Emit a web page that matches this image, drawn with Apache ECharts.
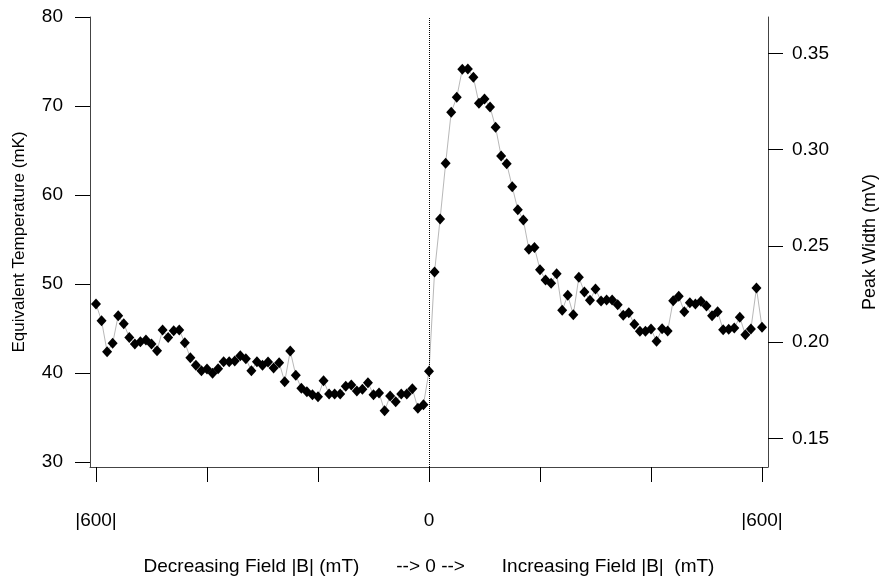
<!DOCTYPE html>
<html>
<head>
<meta charset="utf-8">
<script src="https://cdn.jsdelivr.net/npm/echarts@6/dist/echarts.min.js"></script>
<style>html,body{margin:0;padding:0;background:#fff;}#c{width:885px;height:585px;}</style>
</head>
<body>
<div id="c"></div>
<script>
// Decreasing field side (plotted as negative), |B| in mT
const fieldLeft = [-600,-590,-580,-570,-560,-550,-540,-530,-520,-510,-500,-490,-480,-470,-460,-450,-440,-430,-420,-410,-400,-390,-380,-370,-360,-350,-340,-330,-320,-310,-300,-290,-280,-270,-260,-250,-240,-230,-220,-210,-200,-190,-180,-170,-160,-150,-140,-130,-120,-110,-100,-90,-80,-70,-60,-50,-40,-30,-20,-10,0];
const tempLeft = [47.75,45.88,42.4,43.33,46.44,45.54,44.0,43.26,43.52,43.71,43.26,42.5,44.83,44.0,44.75,44.83,43.4,41.72,40.86,40.26,40.45,39.97,40.48,41.27,41.27,41.35,41.94,41.61,40.26,41.27,40.86,41.24,40.56,41.16,39.02,42.47,39.74,38.28,37.9,37.56,37.34,39.13,37.64,37.64,37.64,38.5,38.65,37.98,38.17,38.91,37.56,37.75,35.76,37.42,36.78,37.64,37.64,38.24,36.03,36.44,40.19];
// Increasing field side
const fieldRight = [10,20,30,40,50,60,70,80,90,100,110,120,130,140,150,160,170,180,190,200,210,220,230,240,250,260,270,280,290,300,310,320,330,340,350,360,370,380,390,400,410,420,430,440,450,460,470,480,490,500,510,520,530,540,550,560,570,580,590,600];
const tempRight = [51.35,57.3,63.56,69.29,70.98,74.12,74.16,73.22,70.3,70.79,69.89,67.6,64.38,63.52,60.93,58.35,57.19,53.9,54.1,51.6,50.45,50.08,51.16,47.04,48.73,46.55,50.75,49.1,48.17,49.44,48.09,48.2,48.2,47.67,46.48,46.78,45.47,44.69,44.69,44.94,43.56,44.98,44.72,48.12,48.62,46.89,47.9,47.75,48.05,47.53,46.44,46.89,44.87,44.91,45.06,46.26,44.3,44.94,49.55,45.13];

const xTicks = [-600,-400,-200,0,200,400,600];
const xLabels = [-600,0,600];
const leftTicks = [30,40,50,60,70,80];
const rightTicks = [0.15,0.20,0.25,0.30,0.35];

const data = [];
fieldLeft.forEach((f,i)=>data.push([f,tempLeft[i]]));
fieldRight.forEach((f,i)=>data.push([f,tempRight[i]]));

const FONT = '"Liberation Sans", Arial, sans-serif';
const FS = 19;   // tick labels
const TS = 19;   // axis titles
const chart = echarts.init(document.getElementById('c'), null, {renderer:'canvas'});
chart.setOption({
  animation:false,
  backgroundColor:'#fff',
  textStyle:{fontFamily:FONT},
  grid:{left:90,right:117,top:17,bottom:118,containLabel:false,outerBoundsMode:'none'},
  xAxis:{
    type:'value', min:-610.8, max:610.8,
    name:'Decreasing Field |B| (mT)       --> 0 -->       Increasing Field |B|  (mT)',
    nameLocation:'middle', nameGap:90,
    nameTextStyle:{fontFamily:FONT,fontSize:TS,color:'#000'},
    axisLine:{show:true,onZero:false,lineStyle:{color:'#444',width:1}},
    axisTick:{show:true,length:15,customValues:xTicks,lineStyle:{color:'#000'}},
    axisLabel:{customValues:xLabels,margin:44,fontFamily:FONT,fontSize:FS,color:'#000',
      formatter:v=>v===0?'0':'|'+Math.abs(v)+'|'},
    splitLine:{show:false}
  },
  yAxis:[{
    type:'value', min:29.438, max:80, position:'left',
    name:'Equivalent Temperature (mK)', nameLocation:'middle', nameGap:62, nameRotate:90,
    nameTextStyle:{fontFamily:FONT,fontSize:17,color:'#000'},
    axisLine:{show:true,onZero:false,lineStyle:{color:'#444',width:1}},
    axisTick:{show:true,length:15,customValues:leftTicks,lineStyle:{color:'#000'}},
    axisLabel:{customValues:leftTicks,margin:27,fontFamily:FONT,fontSize:FS,color:'#000'},
    splitLine:{show:false}
  },{
    type:'value', min:0.13509, max:0.36886, position:'right',
    name:'Peak Width (mV)', nameLocation:'middle', nameGap:93, nameRotate:90,
    nameTextStyle:{fontFamily:FONT,fontSize:18,color:'#000'},
    axisLine:{show:true,onZero:false,lineStyle:{color:'#444',width:1}},
    axisTick:{show:true,length:15,customValues:rightTicks,lineStyle:{color:'#000'}},
    axisLabel:{customValues:rightTicks,margin:24,fontFamily:FONT,fontSize:FS,color:'#000',
      formatter:v=>v.toFixed(2)},
    splitLine:{show:false}
  }],
  series:[{
    type:'line', yAxisIndex:0, data:data,
    symbol:'diamond', symbolSize:[10,11],
    itemStyle:{color:'#000'},
    lineStyle:{color:'#b8b8b8',width:1},
    markLine:{silent:true,symbol:'none',label:{show:false},
      lineStyle:{type:'dotted',color:'#000',width:1},
      data:[{xAxis:0}]}
  }]
});
</script>
</body>
</html>
